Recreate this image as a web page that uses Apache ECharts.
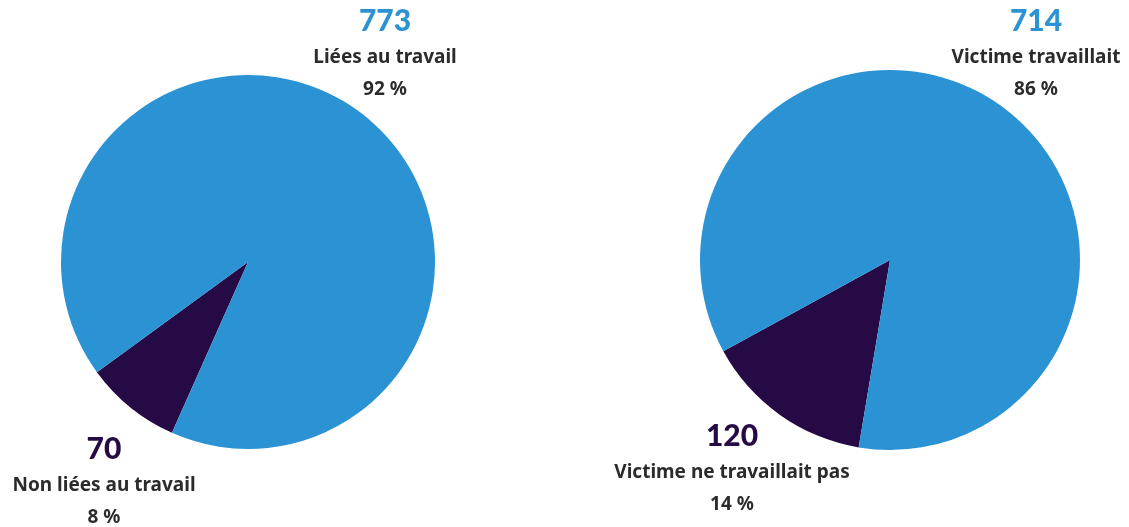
<!DOCTYPE html>
<html>
<head>
<meta charset="utf-8">
<script src="https://cdn.jsdelivr.net/npm/echarts@6/dist/echarts.min.js"></script>
<style>
  html, body { margin: 0; padding: 0; background: #fff; }
  #container { width: 1129px; height: 527px; }
</style>
</head>
<body>
<div id="container"></div>
<script>
// data
var leftNames = ['Non liées au travail', 'Liées au travail'];
var leftValues = [70, 773];
var rightNames = ['Victime ne travaillait pas', 'Victime travaillait'];
var rightValues = [120, 714];
var colors = ['#260a45', '#2b93d3'];

var dom = document.getElementById("container");
var myChart = echarts.init(dom);

var pct = (vals, i) => {
    let total = vals.reduce((a, b) => a + b, 0);
    return Math.round(vals[i] / total * 100) + ' %';
};

// label block: number, name, percent
var labelBlock = (x, y, value, name, p, color) => {
    let base = { align: 'center', verticalAlign: 'middle' };
    let txt = { fontFamily: 'Noto Sans', fontSize: 19, fontWeight: 'bold', fill: '#2b2b2b' };
    return [
        { type: 'text', x: x, y: y, style: Object.assign({ text: String(value), fontFamily: 'Lato', fontSize: 30, fontWeight: 900, fill: color }, base) },
        { type: 'text', x: x, y: y + 37, style: Object.assign({ text: name }, txt, base) },
        { type: 'text', x: x, y: y + 69, style: Object.assign({ text: p }, txt, base) }
    ];
};

var mkData = (names, vals) => names.map((n, i) => ({ name: n, value: vals[i], itemStyle: { color: colors[i] } }));

var option = {
    animation: false,
    series: [
        {
            type: 'pie',
            center: [248, 262],
            radius: 187,
            startAngle: 246,
            clockwise: true,
            label: { show: false },
            labelLine: { show: false },
            emphasis: { disabled: true },
            data: mkData(leftNames, leftValues)
        },
        {
            type: 'pie',
            center: [890, 260],
            radius: 190,
            startAngle: 260.5,
            clockwise: true,
            label: { show: false },
            labelLine: { show: false },
            emphasis: { disabled: true },
            data: mkData(rightNames, rightValues)
        }
    ],
    graphic: [].concat(
        labelBlock(385, 21, leftValues[1], leftNames[1], pct(leftValues, 1), colors[1]),
        labelBlock(104, 449, leftValues[0], leftNames[0], pct(leftValues, 0), colors[0]),
        labelBlock(1036, 21, rightValues[1], rightNames[1], pct(rightValues, 1), colors[1]),
        labelBlock(732, 436, rightValues[0], rightNames[0], pct(rightValues, 0), colors[0])
    )
};
myChart.setOption(option, true);
</script>
</body>
</html>
